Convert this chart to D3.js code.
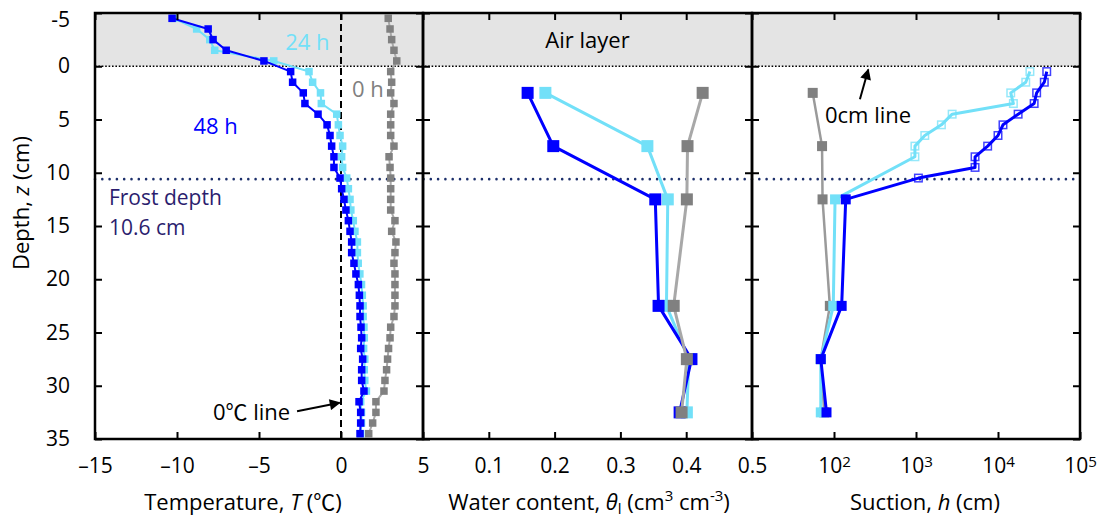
<!DOCTYPE html>
<html>
<head>
<meta charset="utf-8">
<script src="https://cdn.jsdelivr.net/npm/d3@7"></script>
<style>
  body { margin: 0; background: #fff; }
  svg text { font-family: "Open Sans", "Noto Sans CJK KR", sans-serif; }
</style>
</head>
<body>
<script>
// ---- Temperature profiles (1 cm grid, negative depth = air above the soil) ----
const tempDepth = [-4.5, -3.5, -2.5, -1.5, -0.5, 0.5, 1.5, 2.5, 3.5, 4.5,
                   5.5, 6.5, 7.5, 8.5, 9.5, 10.5, 11.5, 12.5, 13.5, 14.5,
                   15.5, 16.5, 17.5, 18.5, 19.5, 20.5, 21.5, 22.5, 23.5, 24.5,
                   25.5, 26.5, 27.5, 28.5, 29.5, 30.5, 31.5, 32.5, 33.5, 34.5];
const temp0h  = [2.88, 2.99, 3.09, 3.23, 3.40, 3.03, 3.09, 3.03, 3.23, 3.03,
                 3.03, 3.03, 3.23, 2.93, 2.99, 3.03, 3.03, 3.03, 3.03, 3.29,
                 3.09, 3.35, 3.29, 3.23, 3.29, 3.29, 3.29, 3.29, 3.23, 3.03,
                 2.99, 2.90, 2.84, 2.78, 2.68, 2.62, 2.13, 2.13, 1.93, 1.69];
const temp24h = [-10.2, -8.8, -8.0, -7.7, -4.1, -1.95, -1.73, -1.25, -1.2, -0.26,
                 -0.16, -0.06, 0.10, 0.04, 0.10, 0.35, 0.45, 0.55, 0.60, 0.75,
                 0.85, 1.00, 1.00, 1.05, 1.15, 1.25, 1.30, 1.35, 1.35, 1.40,
                 1.42, 1.38, 1.45, 1.42, 1.45, 1.55, 1.20, 1.25, 1.25, 1.20];
const temp48h = [-10.3, -8.1, -7.8, -7.0, -4.7, -3.07, -2.95, -2.3, -2.2, -1.4,
                 -0.85, -0.67, -0.57, -0.43, -0.43, -0.06, 0.04, 0.18, 0.30, 0.45,
                 0.55, 0.65, 0.65, 0.79, 0.91, 1.06, 1.12, 1.16, 1.16, 1.22,
                 1.26, 1.20, 1.32, 1.26, 1.26, 1.40, 1.10, 1.20, 1.20, 1.16];

// ---- Liquid water content at the sensor depths ----
const sensorDepth = [2.5, 7.5, 12.5, 22.5, 27.5, 32.5];
const theta0h  = [0.425, 0.402, 0.401, 0.381, 0.401, 0.393];
const theta24h = [0.186, 0.341, 0.372, 0.370, 0.404, 0.401];
const theta48h = [0.159, 0.198, 0.353, 0.358, 0.408, 0.390];

// ---- Suction: tensiometer readings (filled) and frozen-zone estimates (open) ----
const suction0h = [55, 71.5, 72.5, 89, 69, 76];
const unfrozenDepth = [12.5, 22.5, 27.5, 32.5];
const suction24h = [103, 98, 69, 69];
const suction48h = [139, 124, 69, 81];
const frozenDepth24h = [0.5, 1.5, 2.5, 3.5, 4.5, 5.5, 6.5, 7.5, 8.5];
const frozenSuction24h = [24500, 21800, 14300, 15400, 2760, 2040, 1280, 970, 970];
const frozenDepth48h = [0.5, 1.5, 2.5, 3.5, 4.5, 5.5, 6.5, 7.5, 8.5, 9.5, 10.5];
const frozenSuction48h = [39300, 36700, 29600, 27600, 17600, 11500, 10000, 7480, 5250, 5250, 1070];

// ---- Axis ticks ----
const depthTicks = [-5, 0, 5, 10, 15, 20, 25, 30, 35];
const tempTicks = [-15, -10, -5, 0, 5];
const thetaTicks = [0.1, 0.2, 0.3, 0.4, 0.5];
const suctionTicks = [1e2, 1e3, 1e4, 1e5];
const frostDepth = 10.6;

const COL0 = "#808080", COL0_LINE = "#a8a8a8";
const COL24 = "#72e0f8";
const COL48 = "#0000ff";
const FROST = "#2b1d6e";

const W = 1104, H = 523;
const svg = d3.select("body").append("svg").attr("width", W).attr("height", H);

const y = d3.scaleLinear().domain([-5, 35]).range([13, 439]);
const xT = d3.scaleLinear().domain([-15, 5]).range([95, 423]);
const xW = d3.scaleLinear().domain([0, 0.5]).range([423, 752]);
const xH = d3.scaleLog().domain([10, 1e5]).range([752, 1080]);
const panels = [xT, xW, xH];

// arrow head
svg.append("defs").append("marker")
  .attr("id", "arrow").attr("viewBox", "0 0 10 10")
  .attr("refX", 9).attr("refY", 5)
  .attr("markerUnits", "userSpaceOnUse")
  .attr("markerWidth", 14).attr("markerHeight", 11)
  .attr("orient", "auto")
  .append("path").attr("d", "M0,0 L10,5 L0,10 Z").attr("fill", "#000");

// air layer shading
panels.forEach(xs => {
  svg.append("rect")
    .attr("x", xs.range()[0]).attr("y", y(-5))
    .attr("width", xs.range()[1] - xs.range()[0])
    .attr("height", y(0) - y(-5))
    .attr("fill", "#e4e4e4");
});

// soil surface and frost depth lines
svg.append("line")
  .attr("x1", xT.range()[0]).attr("x2", xH.range()[1])
  .attr("y1", y(0)).attr("y2", y(0))
  .attr("stroke", "#000").attr("stroke-width", 1.6)
  .attr("stroke-dasharray", "1.6,1.8");
svg.append("line")
  .attr("x1", xT.range()[0]).attr("x2", xH.range()[1])
  .attr("y1", y(frostDepth)).attr("y2", y(frostDepth))
  .attr("stroke", "#1c2f6b").attr("stroke-width", 2.6)
  .attr("stroke-linecap", "round")
  .attr("stroke-dasharray", "0,7.3");

// 0 °C reference line
svg.append("line")
  .attr("x1", xT(0)).attr("x2", xT(0))
  .attr("y1", y(-5)).attr("y2", y(35))
  .attr("stroke", "#000").attr("stroke-width", 2)
  .attr("stroke-dasharray", "7,4");

function drawSeries(xs, depths, values, opt) {
  const g = svg.append("g");
  const pts = depths.map((d, i) => [values[i], d]);
  g.append("path")
    .datum(pts)
    .attr("fill", "none")
    .attr("stroke", opt.lineColor || opt.color)
    .attr("stroke-width", opt.lw)
    .attr("stroke-linejoin", "round")
    .attr("d", d3.line().x(p => xs(p[0])).y(p => y(p[1])));
  return { g, pts };
}
function drawSquares(g, xs, pts, color, size, open) {
  g.selectAll(null).data(pts).enter().append("rect")
    .attr("x", p => xs(p[0]) - size / 2)
    .attr("y", p => y(p[1]) - size / 2)
    .attr("width", size).attr("height", size)
    .attr("fill", open ? "none" : color)
    .attr("stroke", open ? color : "none")
    .attr("stroke-width", open ? 1.5 : 0)
    .attr("stroke-opacity", open ? 0.75 : 1);
}

// ---- Panel 1: temperature ----
[[temp0h, COL0, COL0_LINE], [temp24h, COL24, COL24], [temp48h, COL48, COL48]].forEach(([vals, c, lc]) => {
  const s = drawSeries(xT, tempDepth, vals, { color: c, lineColor: lc, lw: 2 });
  drawSquares(s.g, xT, s.pts, c, 7.5, false);
});

// ---- Panel 2: water content ----
[[theta24h, COL24, COL24], [theta48h, COL48, COL48], [theta0h, COL0, COL0_LINE]].forEach(([vals, c, lc]) => {
  const s = drawSeries(xW, sensorDepth, vals, { color: c, lineColor: lc, lw: 3 });
  drawSquares(s.g, xW, s.pts, c, 12, false);
});

// ---- Panel 3: suction ----
{
  const s0 = drawSeries(xH, sensorDepth, suction0h, { color: COL0, lineColor: "#9a9a9a", lw: 2.5 });
  drawSquares(s0.g, xH, s0.pts, COL0, 10, false);

  [[frozenDepth24h, frozenSuction24h, suction24h, COL24],
   [frozenDepth48h, frozenSuction48h, suction48h, COL48]].forEach(([fd, fs, us, c]) => {
    const s = drawSeries(xH, fd.concat(unfrozenDepth), fs.concat(us), { color: c, lw: 3 });
    drawSquares(s.g, xH, s.pts.slice(0, fd.length), c, 7.5, true);
    drawSquares(s.g, xH, s.pts.slice(fd.length), c, 10, false);
  });
}

// ---- Axes ----
const tickStyle = g => {
  g.select(".domain").remove();
  g.selectAll(".tick line").attr("stroke", "#000").attr("stroke-width", 2);
  g.attr("font-size", 21).attr("font-family", null);
  g.selectAll(".tick text").attr("fill", "#000");
};
const bottomFormats = [
  d => (d < 0 ? "\u2013" + Math.abs(d) : String(d)),
  d3.format(".1f"),
  () => ""
];
[[xT, tempTicks], [xW, thetaTicks], [xH, suctionTicks]].forEach(([xs, ticks], i) => {
  const gb = svg.append("g").attr("transform", `translate(0,${y(35)})`)
    .call(d3.axisBottom(xs).tickValues(ticks).tickSizeInner(-7).tickSizeOuter(0)
      .tickPadding(19).tickFormat(bottomFormats[i]))
    .call(tickStyle);
  if (i === 2) {
    gb.selectAll(".tick text").each(function (d) {
      const t = d3.select(this);
      t.append("tspan").text("10");
      t.append("tspan").attr("dy", "-0.42em").attr("font-size", "0.72em").text(Math.round(Math.log10(d)));
    });
  }
  svg.append("g").attr("transform", `translate(0,${y(-5)})`)
    .call(d3.axisTop(xs).tickValues(ticks).tickSizeInner(-7).tickSizeOuter(0).tickFormat(""))
    .call(tickStyle);
  const gl = svg.append("g").attr("transform", `translate(${xs.range()[0]},0)`)
    .call(d3.axisLeft(y).tickValues(depthTicks).tickSizeInner(-7).tickSizeOuter(0)
      .tickPadding(25).tickFormat(i === 0 ? (d => String(d)) : () => ""))
    .call(tickStyle);
  if (i === 0) {
    gl.selectAll(".tick text").filter(d => d === -5).attr("dy", "0.62em");
  }
  svg.append("g").attr("transform", `translate(${xs.range()[1]},0)`)
    .call(d3.axisRight(y).tickValues(depthTicks).tickSizeInner(-7).tickSizeOuter(0).tickFormat(""))
    .call(tickStyle);
});

// panel frames
panels.forEach(xs => {
  svg.append("rect")
    .attr("x", xs.range()[0]).attr("y", y(-5))
    .attr("width", xs.range()[1] - xs.range()[0])
    .attr("height", y(35) - y(-5))
    .attr("fill", "none").attr("stroke", "#000").attr("stroke-width", 2.5);
});

// ---- Axis titles ----
const yTitle = svg.append("text")
  .attr("transform", "translate(29,203) rotate(-90)")
  .attr("text-anchor", "middle").attr("font-size", 22);
yTitle.append("tspan").text("Depth, ");
yTitle.append("tspan").attr("font-style", "italic").text("z");
yTitle.append("tspan").text(" (cm)");

const tTitle = svg.append("text").attr("x", 243).attr("y", 510)
  .attr("text-anchor", "middle").attr("font-size", 22);
tTitle.append("tspan").text("Temperature, ");
tTitle.append("tspan").attr("font-style", "italic").text("T");
tTitle.append("tspan").text(" (\u2103)");

const wTitle = svg.append("text").attr("x", 589).attr("y", 510)
  .attr("text-anchor", "middle").attr("font-size", 22);
wTitle.append("tspan").text("Water content, ");
wTitle.append("tspan").attr("font-style", "italic").text("\u03b8");
wTitle.append("tspan").attr("font-size", 15).attr("dy", 4).text("l");
wTitle.append("tspan").attr("dy", -4).text(" (cm");
wTitle.append("tspan").attr("font-size", 15).attr("dy", -9).text("3");
wTitle.append("tspan").attr("dy", 9).text(" cm");
wTitle.append("tspan").attr("font-size", 15).attr("dy", -9).text("-3");
wTitle.append("tspan").attr("dy", 9).text(")");

const hTitle = svg.append("text").attr("x", 925).attr("y", 510)
  .attr("text-anchor", "middle").attr("font-size", 22);
hTitle.append("tspan").text("Suction, ");
hTitle.append("tspan").attr("font-style", "italic").text("h");
hTitle.append("tspan").text(" (cm)");

// ---- Annotations ----
const note = (x, yy, txt, color, anchor, size) =>
  svg.append("text").attr("x", x).attr("y", yy).attr("font-size", size || 22)
    .attr("fill", color).attr("text-anchor", anchor || "start").text(txt);

note(xT(-3.4), y(-1.5), "24 h", COL24);
note(xT(0.67), y(2.9), "0 h", COL0);
note(xT(-9.0), y(6.4), "48 h", COL48);
note(xH(77.6), y(5.35), "0cm line", "#000");
note(xT(-3.1), y(33.2), "0\u2103 line", "#000", "end");
note(xW(0.25), y(-1.7), "Air layer", "#000", "middle");

// two-line frost depth label
note(xT(-14.15), y(13.05), "Frost depth", FROST, "start", 21);
note(xT(-14.15), y(15.8), frostDepth + " cm", FROST, "start", 21);

svg.append("line")
  .attr("x1", xH(207)).attr("y1", y(3.1))
  .attr("x2", xH(262)).attr("y2", y(0.3))
  .attr("stroke", "#000").attr("stroke-width", 2).attr("marker-end", "url(#arrow)");
svg.append("line")
  .attr("x1", xT(-2.68)).attr("y1", y(32.4))
  .attr("x2", xT(-0.08)).attr("y2", y(31.6))
  .attr("stroke", "#000").attr("stroke-width", 2).attr("marker-end", "url(#arrow)");
</script>
</body>
</html>
